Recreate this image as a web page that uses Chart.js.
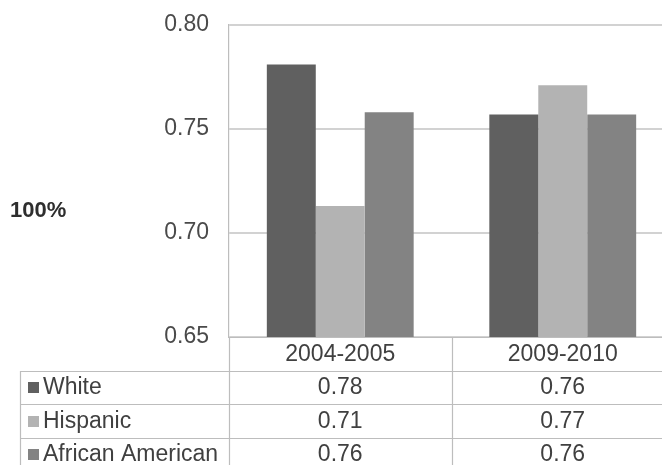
<!DOCTYPE html>
<html>
<head>
<meta charset="utf-8">
<script src="https://cdn.jsdelivr.net/npm/chart.js@4/dist/chart.umd.min.js"></script>
<style>
  html, body { margin: 0; padding: 0; background: #fff; overflow: hidden; }
  #wrap { width: 674px; height: 465px; }
</style>
</head>
<body>
<div id="wrap"><canvas id="c" width="674" height="465"></canvas></div>
<script>
// School years shown as categories
const categories = ['2004-2005', '2009-2010'];
// Rates per group
const white = [0.781, 0.757];
const hispanic = [0.713, 0.771];
const africanAmerican = [0.758, 0.757];
const seriesNames = ['White', 'Hispanic', 'African American'];
const seriesColors = ['#606060', '#b3b3b3', '#838383'];
const yTicks = [0.65, 0.70, 0.75, 0.80];
const sideLabel = '100%';

const FONT = '"Liberation Sans", Arial, sans-serif';
const TEXT = '#404040';
const LINE = '#bdbdbd';

// Data table under the plot, built from the same datasets as the bars
const dataTable = {
  id: 'dataTable',
  afterDraw(chart) {
    const { ctx, chartArea, scales } = chart;
    const x = scales.x;
    const top = chartArea.bottom;
    const rowH = 33.6;
    const tableLeft = 20;
    const right = chart.width;
    ctx.save();
    ctx.strokeStyle = LINE;
    ctx.lineWidth = 1.2;
    // horizontal rules
    ctx.beginPath();
    ctx.moveTo(chartArea.left, top + 0.5);
    ctx.lineTo(right, top + 0.5);
    for (let r = 1; r <= 3; r++) {
      const y = Math.round(top + r * rowH) + 0.5;
      ctx.moveTo(tableLeft, y);
      ctx.lineTo(right, y);
    }
    // vertical rules
    const bottom = chart.height + 10;
    ctx.moveTo(tableLeft + 0.5, Math.round(top + rowH));
    ctx.lineTo(tableLeft + 0.5, bottom);
    for (let i = 0; i <= categories.length; i++) {
      const px = Math.round(x.getPixelForValue(i - 0.5)) + 0.5;
      ctx.moveTo(px, top);
      ctx.lineTo(px, bottom);
    }
    ctx.stroke();

    ctx.font = '23px ' + FONT;
    ctx.fillStyle = TEXT;
    ctx.textBaseline = 'middle';
    ctx.textAlign = 'center';
    categories.forEach((c, i) => {
      ctx.fillText(c, x.getPixelForValue(i), top + rowH / 2 + 0.5);
    });
    chart.data.datasets.forEach((ds, r) => {
      const cy = top + (r + 1) * rowH + rowH / 2 + 0.5;
      ctx.fillStyle = ds.backgroundColor;
      ctx.fillRect(28, Math.round(cy - 6), 11, 11);
      ctx.fillStyle = TEXT;
      ctx.textAlign = 'left';
      ctx.fillText(ds.label, 43, cy);
      ctx.textAlign = 'center';
      ds.data.forEach((v, i) => {
        ctx.fillText(v.toFixed(2), x.getPixelForValue(i), cy);
      });
    });

    // side label
    ctx.font = 'bold 22px ' + FONT;
    ctx.fillStyle = '#2e2e2e';
    ctx.textAlign = 'left';
    ctx.fillText(sideLabel, 10, 211);
    ctx.restore();
  }
};

new Chart(document.getElementById('c'), {
  type: 'bar',
  data: {
    labels: categories,
    datasets: [
      { label: seriesNames[0], data: white, backgroundColor: seriesColors[0] },
      { label: seriesNames[1], data: hispanic, backgroundColor: seriesColors[1] },
      { label: seriesNames[2], data: africanAmerican, backgroundColor: seriesColors[2] }
    ]
  },
  options: {
    responsive: false,
    animation: false,
    layout: { padding: { top: 25, right: 0, bottom: 0, left: 0 } },
    datasets: { bar: { categoryPercentage: 0.66, barPercentage: 1.0, borderWidth: 0 } },
    plugins: { legend: { display: false }, tooltip: { enabled: false } },
    scales: {
      x: {
        ticks: { display: false },
        grid: { display: false, drawTicks: false },
        border: { display: false },
        afterFit(s) { s.height = 128; }
      },
      y: {
        min: yTicks[0],
        max: yTicks[yTicks.length - 1],
        afterBuildTicks(s) { s.ticks = yTicks.map(v => ({ value: v })); },
        ticks: {
          padding: 20,
          color: '#4a4a4a',
          font: { family: FONT, size: 23 },
          callback: v => Number(v).toFixed(2)
        },
        grid: { color: '#d2d2d2', lineWidth: 2, drawTicks: false },
        border: { display: true, color: LINE, width: 1.2 },
        afterFit(s) { s.width = 229; s.paddingTop = 0; s.paddingBottom = 0; }
      }
    }
  },
  plugins: [dataTable]
});
</script>
</body>
</html>
